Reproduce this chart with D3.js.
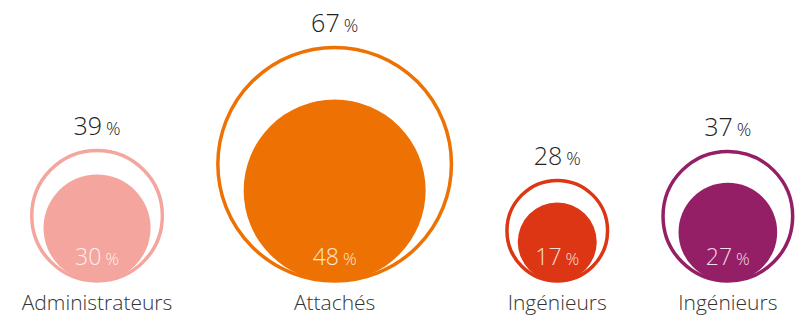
<!DOCTYPE html>
<html>
<head>
<meta charset="utf-8">
<script src="https://cdn.jsdelivr.net/npm/d3@7"></script>
<style>
  body { margin: 0; background: #fff; }
  svg text { font-family: "Open Sans", "Lato", sans-serif; font-weight: 300; }
</style>
</head>
<body>
<svg id="chart" width="796" height="316"></svg>
<script>
// data
var categories = ['Administrateurs', 'Attachés', 'Ingénieurs', 'Ingénieurs'];
var outerValues = [39, 67, 28, 37];
var innerValues = [30, 48, 17, 27];
var colors = ['#f4a69e', '#ee7203', '#dc3614', '#951f66'];

var base = 281;       // bottom line shared by all circles
var gap = 52;         // space between neighbouring rings
var startX = 30;      // left edge of the first ring
var sw = 3.5;         // ring stroke width

var svg = d3.select('#chart');

// radius scale (sizes in the source are not strictly proportional)
var r = d3.scaleLinear()
    .domain([0, 17, 28, 37, 39, 48, 67])
    .range([0, 39.5, 50.3, 64.8, 65.3, 91, 116.8]);

// cumulative x positions
var items = [];
var cursor = startX;
categories.forEach(function(c, i) {
    var ro = r(outerValues[i]);
    var cx = cursor + ro + sw / 2;
    items.push({ name: c, outer: outerValues[i], inner: innerValues[i], color: colors[i], cx: cx, ro: ro, ri: r(innerValues[i]) });
    cursor = cx + ro + sw / 2 + gap;
});

var g = svg.selectAll('g.item')
    .data(items)
    .join('g')
    .attr('class', 'item');

g.append('circle')
    .attr('cx', d => d.cx)
    .attr('cy', d => base - d.ro)
    .attr('r', d => d.ro)
    .attr('fill', 'none')
    .attr('stroke', d => d.color)
    .attr('stroke-width', sw);

g.append('circle')
    .attr('cx', d => d.cx)
    .attr('cy', d => base + 0.5 - d.ri)
    .attr('r', d => d.ri)
    .attr('fill', d => d.color);

function pct(sel, value, big, small) {
    sel.append('tspan').text(value).style('font-size', big + 'px');
    sel.append('tspan').text('%').attr('dx', 4).style('font-size', small + 'px');
}

// outer value above the ring
g.append('text')
    .attr('x', d => d.cx)
    .attr('y', d => base - 2 * d.ro - sw / 2 - 14)
    .attr('text-anchor', 'middle')
    .attr('fill', '#222')
    .each(function(d) { pct(d3.select(this), d.outer, 25, 18); });

// inner value near bottom of the disc
g.append('text')
    .attr('x', d => d.cx)
    .attr('y', base - 16)
    .attr('text-anchor', 'middle')
    .attr('fill', '#fff')
    .attr('fill-opacity', 0.85)
    .each(function(d) { pct(d3.select(this), d.inner, 23, 17); });

// category label
g.append('text')
    .attr('x', d => d.cx)
    .attr('y', 310)
    .attr('text-anchor', 'middle')
    .attr('fill', '#333')
    .style('font-size', '21px')
    .text(d => d.name);
</script>
</body>
</html>
